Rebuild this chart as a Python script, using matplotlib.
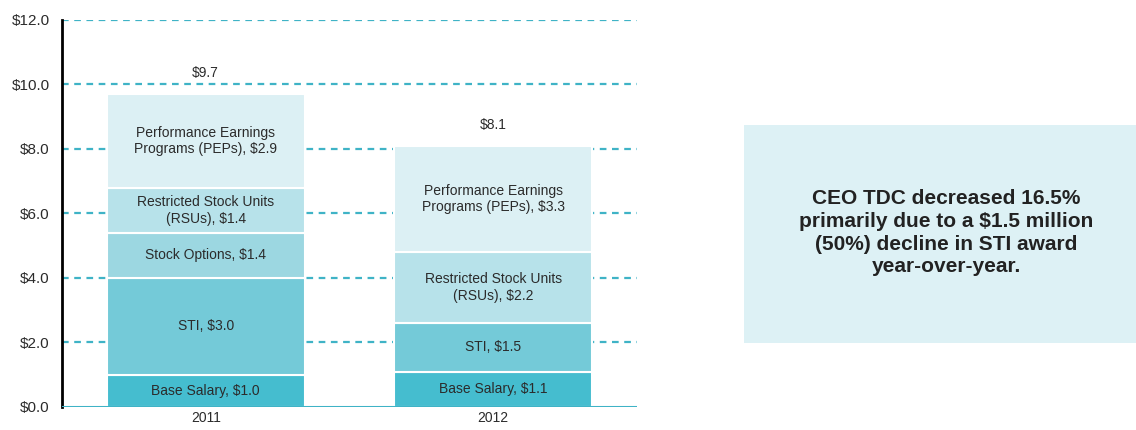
import matplotlib.pyplot as plt
import numpy as np
from matplotlib.patches import Rectangle

plt.rcParams['font.family'] = ['Liberation Sans', 'DejaVu Sans']

# data ($ millions)
years = ["2011", "2012"]
labels_2011 = ["Base Salary", "STI", "Stock Options",
               "Restricted Stock Units\n(RSUs)", "Performance Earnings\nPrograms (PEPs)"]
values_2011 = [1.0, 3.0, 1.4, 1.4, 2.9]
labels_2012 = ["Base Salary", "STI",
               "Restricted Stock Units\n(RSUs)", "Performance Earnings\nPrograms (PEPs)"]
values_2012 = [1.1, 1.5, 2.2, 3.3]
totals = [9.7, 8.1]
yticks = [0, 2, 4, 6, 8, 10, 12]
callout = "CEO TDC decreased 16.5%\nprimarily due to a \\$1.5 million\n(50%) decline in STI award\nyear-over-year."

colors = {
    "Base Salary": "#45bdcf",
    "STI": "#74cad8",
    "Stock Options": "#9cd7e1",
    "Restricted Stock Units\n(RSUs)": "#b7e2ea",
    "Performance Earnings\nPrograms (PEPs)": "#dcf0f4",
}

fig = plt.figure(figsize=(11.36, 4.3), dpi=100)
ax = fig.add_axes([0.0546, 0.0535, 0.506, 0.9])

width = 0.6875
for i, (labs, vals) in enumerate([(labels_2011, values_2011), (labels_2012, values_2012)]):
    bottom = 0.0
    for lab, v in zip(labs, vals):
        ax.bar(i, v, width=width, bottom=bottom, color=colors[lab],
               edgecolor="white", linewidth=1.5, zorder=3)
        ax.text(i, bottom + v / 2, f"{lab}, ${v:.1f}", ha="center", va="center",
                fontsize=10, color="#2b2b2b", zorder=4, linespacing=1.25)
        bottom += v
    ax.annotate(f"${totals[i]:.1f}", (i, totals[i]), xytext=(0, 10),
                textcoords="offset points", ha="center", va="bottom",
                fontsize=10, color="#2b2b2b")

ax.set_xlim(-0.5, 1.5)
ax.set_ylim(0, 12)
ax.set_yticks(yticks)
ax.set_yticklabels([f"${t:.1f}" for t in yticks], fontsize=11, color="#2b2b2b")
ax.set_xticks([0, 1])
ax.set_xticklabels(years, fontsize=10, color="#2b2b2b")
ax.tick_params(length=0, pad=3)
ax.tick_params(axis="y", pad=9)

for t in yticks[1:]:
    ax.axhline(t, color="#3fb3c6", lw=1.6, ls=(0, (3, 2.5)), zorder=1)
ax.axhline(0, color="#3fb3c6", lw=2.2, zorder=5)

for s in ["top", "right", "bottom"]:
    ax.spines[s].set_visible(False)
ax.spines["left"].set_linewidth(2)
ax.spines["left"].set_color("black")

fig.patches.append(Rectangle((0.655, 0.202), 0.345, 0.507, transform=fig.transFigure,
                             facecolor="#ddf1f5", edgecolor="none"))
fig.text(0.833, 0.459, callout, ha="center", va="center", fontsize=15,
         fontweight="bold", color="#222222", linespacing=1.25)

fig.savefig("out.png", dpi=100)
